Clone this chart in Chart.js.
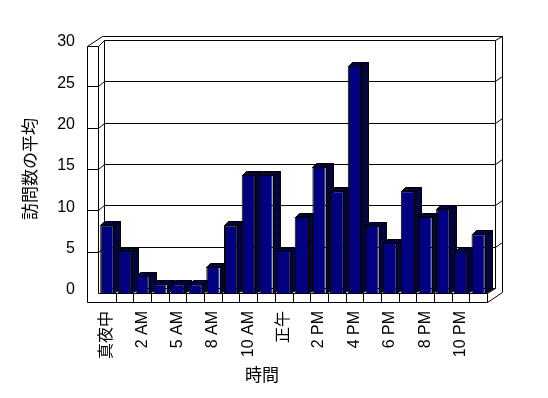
<!DOCTYPE html>
<html>
<head>
<meta charset="utf-8">
<script src="https://cdn.jsdelivr.net/npm/chart.js@4.4.1/dist/chart.umd.min.js"></script>
<style>
  html, body { margin: 0; background: #fff; }
</style>
</head>
<body>
<canvas id="chart" width="548" height="398"></canvas>
<script>
// hourly categories (only every other one is labelled in the picture)
const HOURS = ["真夜中","1 AM","2 AM","3 AM","5 AM","7 AM","8 AM","9 AM","10 AM","11 AM","正午",
               "1 PM","2 PM","3 PM","4 PM","5 PM","6 PM","7 PM","8 PM","9 PM","10 PM","11 PM"];
const VISITS = [8.2, 5.1, 2.05, 1.05, 1.05, 1.05, 3.2, 8.2, 14.3, 14.3, 5.1,
                9.2, 15.3, 12.3, 27.5, 8.1, 6.1, 12.3, 9.2, 10.2, 5.0, 7.1];
const Y_TICKS = [0, 5, 10, 15, 20, 25, 30];
const X_TITLE = "時間";
const Y_TITLE = "訪問数の平均";

const FONT = "'Liberation Sans', 'Noto Sans CJK JP', sans-serif";
const NAVY = "#000080";

Chart.defaults.color = "#000";
Chart.defaults.font.family = FONT;

// dotted fill used on the shaded faces of the bars
function dotPattern(ctx) {
  const c = document.createElement("canvas");
  c.width = 2; c.height = 2;
  const p = c.getContext("2d");
  p.fillStyle = "#00006a"; p.fillRect(0, 0, 2, 2);
  p.fillStyle = "#000"; p.fillRect(0, 0, 1, 1);
  return ctx.createPattern(c, "repeat");
}

// 3D box (walls, floor, grid) + side/top faces of the columns
const box3d = {
  id: "box3d",
  beforeDatasetsDraw(chart) {
    const { ctx, chartArea: a, scales: { x, y } } = chart;
    const L = a.left, R = a.right, T = a.top, B = a.bottom;
    const side = 11, floor = 9;          // wall / floor thickness
    const bL = L + 6, bR = R + 8, bd = -5; // back wall plane
    const oR = R + 15;                   // outer right edge
    const px = v => Math.round(v) + 0.5;
    const path = pts => {
      ctx.beginPath();
      pts.forEach(([u, v], i) => i ? ctx.lineTo(px(u), px(v)) : ctx.moveTo(px(u), px(v)));
    };
    const line = pts => { path(pts); ctx.stroke(); };

    ctx.save();
    ctx.strokeStyle = "#000";
    ctx.lineWidth = 1;

    // back wall face and its thickness
    line([[bL, B + bd], [bL, T + bd], [bR, T + bd], [bR, B + bd]]);
    line([[L - side, T + 1], [L + 4, T - 9], [oR, T - 9], [oR, B - 1]]);
    line([[bR, T + bd], [oR, T - 9]]);

    // left wall front face
    line([[L - side, B + floor], [L - side, T + 1], [L, T + 1], [L, B]]);
    line([[L, T + 1], [bL, T + bd]]);

    // gridlines
    Y_TICKS.slice(1, -1).forEach(v => {
      const yy = y.getPixelForValue(v);
      line([[L - side, yy], [L, yy], [bL, yy + bd], [bR, yy + bd], [oR, yy + bd - 5]]);
    });
    line([[bL, B + bd], [bR, B + bd]]);

    // floor
    line([[L - side, B + floor], [R, B + floor], [R, B], [L, B]]);
    line([[R, B], [bR, B + bd]]);
    line([[R, B + floor], [oR, B - 1]]);
    const cw = (R - L) / HOURS.length;
    for (let k = 1; k < HOURS.length; k++) line([[L + k * cw, B], [L + k * cw, B + floor]]);

    // shaded faces of the columns
    ctx.fillStyle = dotPattern(ctx);
    chart.getDatasetMeta(0).data.forEach(bar => {
      const { x: cx, y: top, base, width } = bar.getProps(["x", "y", "base", "width"], true);
      const l = cx - width / 2, r = cx + width / 2;
      path([[r, top], [r + 7, top - 4], [r + 7, base - 4], [r, base]]);
      ctx.closePath(); ctx.fill(); ctx.stroke();
      path([[l, top], [l + 4, top - 4], [r + 7, top - 4], [r, top]]);
      ctx.closePath(); ctx.fill(); ctx.stroke();
    });
    ctx.restore();
  },
  afterDraw(chart) {
    const { ctx, chartArea: a } = chart;
    ctx.save();
    ctx.font = "17px " + FONT;
    ctx.fillStyle = "#000";
    ctx.textAlign = "center";
    ctx.textBaseline = "middle";
    ctx.fillText(X_TITLE, a.left + 164, 376);
    ctx.restore();
  }
};

new Chart(document.getElementById("chart"), {
  type: "bar",
  data: {
    labels: HOURS,
    datasets: [{
      data: VISITS,
      backgroundColor: NAVY,
      borderColor: "#000",
      borderWidth: 1,
      barPercentage: 0.75,
      categoryPercentage: 1
    }]
  },
  options: {
    responsive: false,
    animation: false,
    layout: { padding: { top: 45, right: 61, left: 0, bottom: 0 } },
    plugins: { legend: { display: false }, tooltip: { enabled: false } },
    scales: {
      x: {
        grid: { display: false, drawTicks: false },
        border: { display: false },
        afterFit: s => { s.height = 105; },
        ticks: {
          autoSkip: false,
          minRotation: 90,
          maxRotation: 90,
          padding: 18,
          font: { size: 16 },
          callback: (v, i) => i % 2 === 0 ? HOURS[i] : ""
        }
      },
      y: {
        min: 0,
        max: 30,
        grid: { display: false, drawTicks: false },
        border: { display: false },
        afterFit: s => { s.width = 98; },
        afterBuildTicks: s => { s.ticks = Y_TICKS.map(v => ({ value: v })); },
        ticks: { padding: 23, labelOffset: -3, font: { size: 16 } },
        title: {
          display: true,
          text: Y_TITLE,
          font: { size: 17 },
          padding: { top: 21, bottom: 0 }
        }
      }
    }
  },
  plugins: [box3d]
});
</script>
</body>
</html>
